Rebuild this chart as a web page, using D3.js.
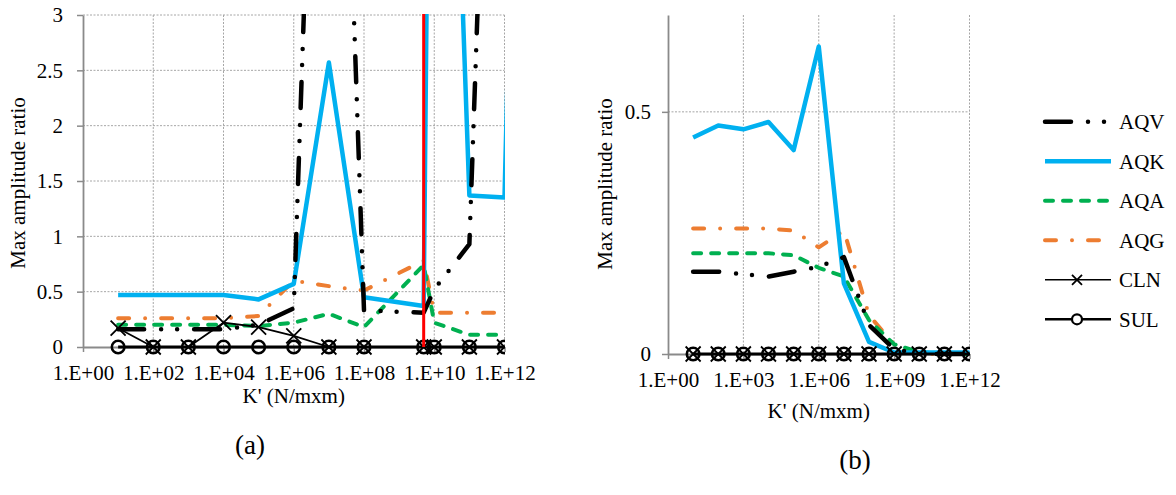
<!DOCTYPE html>
<html>
<head>
<meta charset="utf-8">
<script src="https://cdn.jsdelivr.net/npm/d3@7"></script>
<style>
  body { margin: 0; background: #fff; }
  svg text { font-family: "Liberation Serif", "Times New Roman", Times, "DejaVu Serif", serif; fill: #000; }
</style>
</head>
<body>
<svg id="chart" width="1176" height="495" font-family='"Liberation Serif", "Times New Roman", Times, "DejaVu Serif", serif'></svg>
<script>
// Max amplitude ratio against interface stiffness K', two panels.
// Panel (a) runs off the top in a few places; those off-chart values are
// estimated from the slope of the lines where they leave the plot.

const SERIF = '"Liberation Serif", "Times New Roman", Times, "DejaVu Serif", serif';

// ---- panel (a) data ----
const kA = [1e1, 1e2, 1e3, 1e4, 1e5, 1e6, 1e7, 1e8, 5e9, 1e10, 1e11, 1e12, 1e13];
const aAQV = [0.16, 0.16, 0.16, 0.16, 0.2, 0.35, 9.6, 0.33, 0.31, 0.52, 0.93, 10];
const aAQK = [0.47, 0.47, 0.47, 0.47, 0.43, 0.57, 2.57, 0.45, 0.37, 10.3, 1.37, 1.35, 14];
const aAQA = [0.2, 0.2, 0.2, 0.2, 0.19, 0.22, 0.3, 0.18, 0.74, 0.22, 0.11, 0.11];
const aAQG = [0.26, 0.26, 0.26, 0.26, 0.28, 0.6, 0.55, 0.51, 0.78, 0.31, 0.31, 0.31];
const aCLN = [0.17, 0, 0, 0.22, 0.18, 0.1, 0, 0, 0, 0, 0, 0];
const aSUL = [0, 0, 0, 0, 0, 0, 0, 0, 0, 0, 0, 0];
// the red vertical marker line
const aRedK = [5e9, 5e9];
const aRedY = [0, 10];

// ---- panel (b) data ----
const kB = [1e1, 1e2, 1e3, 1e4, 1e5, 1e6, 1e7, 1e8, 1e9, 1e10, 1e11, 1e12];
const bAQV = [0.17, 0.17, 0.165, 0.16, 0.17, 0.18, 0.2, 0.06, 0.01, 0, 0, 0];
const bAQK = [0.447, 0.472, 0.464, 0.479, 0.421, 0.635, 0.146, 0.025, 0.003, 0.003, 0.003, 0.003];
const bAQA = [0.208, 0.208, 0.208, 0.208, 0.204, 0.178, 0.16, 0.07, 0.02, 0.004, 0, 0];
const bAQG = [0.259, 0.259, 0.259, 0.259, 0.255, 0.22, 0.255, 0.08, 0.02, 0, 0, 0];
const bCLN = [0, 0, 0, 0, 0, 0, 0, 0, 0, 0, 0, 0];
const bSUL = [0, 0, 0, 0, 0, 0, 0, 0, 0, 0, 0, 0];

// ---- axes ----
const yTicksA = [0, 0.5, 1, 1.5, 2, 2.5, 3];
const xTicksA = [1, 1e2, 1e4, 1e6, 1e8, 1e10, 1e12];
const yTicksB = [0, 0.5];
const xTicksB = [1, 1e3, 1e6, 1e9, 1e12];
const seriesNames = ['AQV', 'AQK', 'AQA', 'AQG', 'CLN', 'SUL'];
const xTitle = "K' (N/mxm)";
const yTitle = 'Max amplitude ratio';

const STYLE = {
    AQV: { color: '#000000', width: 4.5, dash: '26 17 0 16 0 17' },
    AQK: { color: '#00b0f0', width: 4.5, dash: null },
    AQA: { color: '#00b050', width: 4, dash: '8 10' },
    AQG: { color: '#ed7d31', width: 4, dash: '11 16 0 16' },
    CLN: { color: '#000000', width: 1.8, dash: null, marker: 'x' },
    SUL: { color: '#000000', width: 3, dash: null, marker: 'o' },
};
const AXIS_COLOR = '#8a8a8a';
const GRID_COLOR = '#a6a6a6';
const FONT_SIZE = 21;

const svg = d3.select('#chart');
svg.append('rect').attr('width', 1176).attr('height', 495).attr('fill', '#fff');

const expFormat = (d) => `1.E+${String(Math.round(Math.log10(d))).padStart(2, '0')}`;

function addText(parent) {
    return parent.append('text').attr('font-family', SERIF).style('font-family', SERIF)
        .attr('font-size', FONT_SIZE).attr('fill', '#000');
}

function drawPanel(p) {
    const g = svg.append('g');
    const x = d3.scaleLog().domain([1, 1e12]).range([p.left, p.right]);
    const y = d3.scaleLinear().domain([0, p.yMax]).range([p.bottom, p.top]);

    // dotted grid
    g.append('g').selectAll('line').data(p.yTicks.filter((t) => t > 0)).join('line')
        .attr('x1', p.left).attr('x2', p.right)
        .attr('y1', (d) => y(d)).attr('y2', (d) => y(d))
        .attr('stroke', GRID_COLOR).attr('stroke-width', 1).attr('stroke-dasharray', '2 1.5');
    g.append('g').selectAll('line').data(p.xTicks.filter((t) => t > 1)).join('line')
        .attr('x1', (d) => x(d)).attr('x2', (d) => x(d))
        .attr('y1', p.top).attr('y2', p.bottom)
        .attr('stroke', GRID_COLOR).attr('stroke-width', 1).attr('stroke-dasharray', '2 1.5');

    // axes
    const gy = g.append('g').attr('transform', `translate(${p.left},0)`)
        .call(d3.axisLeft(y).tickValues(p.yTicks).tickSize(6).tickSizeOuter(0)
            .tickPadding(p.yPad).tickFormat(d3.format('')));
    const gx = g.append('g').attr('transform', `translate(0,${p.bottom})`)
        .call(d3.axisBottom(x).tickValues(p.xTicks).tickSize(5).tickSizeOuter(0)
            .tickPadding(13).tickFormat(expFormat));
    [gy, gx].forEach((ax) => {
        ax.attr('font-family', SERIF).attr('font-size', FONT_SIZE);
        ax.select('.domain').attr('stroke', AXIS_COLOR).attr('stroke-width', 1.8);
        ax.selectAll('.tick line').attr('stroke', AXIS_COLOR).attr('stroke-width', 1.5);
        ax.selectAll('.tick text').attr('font-size', FONT_SIZE)
            .style('font-family', SERIF).attr('fill', '#000');
    });

    // titles
    addText(g).attr('x', (p.left + p.right) / 2).attr('y', p.xTitleY)
        .attr('text-anchor', 'middle').text(xTitle);
    addText(g).attr('transform', `translate(${p.yTitleX},${p.yTitleCy}) rotate(-90)`)
        .attr('text-anchor', 'middle').text(yTitle);
    addText(g).attr('x', p.tagX).attr('y', p.tagY)
        .attr('text-anchor', 'middle').attr('font-size', 27).text(p.tag);

    // series, clipped to the plot area
    const clipId = `clip-${p.tag.replace(/\W/g, '')}`;
    svg.append('clipPath').attr('id', clipId).append('rect')
        .attr('x', p.left - 1).attr('y', p.top - 1)
        .attr('width', p.right - p.left + 1.5).attr('height', p.bottom - p.top + 12);
    const plot = g.append('g').attr('clip-path', `url(#${clipId})`);

    const line = d3.line().x((d) => x(d[0])).y((d) => y(d[1]));
    const order = ['AQG', 'AQA', 'AQK', 'AQV', 'CLN', 'SUL'];
    order.forEach((name) => {
        const pts = p.values[name].map((v, i) => [p.k[i], v]);
        const s = STYLE[name];
        plot.append('path').datum(pts)
            .attr('d', line)
            .attr('fill', 'none')
            .attr('stroke', s.color)
            .attr('stroke-width', s.width)
            .attr('stroke-linecap', s.dash ? 'round' : 'butt')
            .attr('stroke-linejoin', 'round')
            .attr('stroke-dasharray', s.dash);
        if (s.marker === 'x') {
            plot.append('g').selectAll('path').data(pts).join('path')
                .attr('transform', (d) => `translate(${x(d[0])},${y(d[1])})`)
                .attr('d', 'M-7.5,-7.5L7.5,7.5M-7.5,7.5L7.5,-7.5')
                .attr('stroke', s.color).attr('stroke-width', 1.8);
        } else if (s.marker === 'o') {
            plot.append('g').selectAll('circle').data(pts).join('circle')
                .attr('cx', (d) => x(d[0])).attr('cy', (d) => y(d[1]))
                .attr('r', 6.3).attr('fill', 'none')
                .attr('stroke', s.color).attr('stroke-width', 2.6);
        }
    });

    if (p.red) {
        const redPts = p.red.k.map((k, i) => [k, p.red.y[i]]);
        plot.append('path').datum(redPts).attr('d', line)
            .attr('fill', 'none').attr('stroke', '#ff0000').attr('stroke-width', 3);
    }
}

drawPanel({
    tag: '(a)', left: 83, right: 504.5, top: 15, bottom: 347, yMax: 3,
    xTicks: xTicksA, yTicks: yTicksA, yPad: 14, k: kA,
    values: { AQV: aAQV, AQK: aAQK, AQA: aAQA, AQG: aAQG, CLN: aCLN, SUL: aSUL },
    red: { k: aRedK, y: aRedY },
    xTitleY: 403, yTitleX: 25, yTitleCy: 183, tagX: 250, tagY: 454,
});

drawPanel({
    tag: '(b)', left: 668, right: 969.5, top: 15, bottom: 354, yMax: 0.7,
    xTicks: xTicksB, yTicks: yTicksB, yPad: 11, k: kB,
    values: { AQV: bAQV, AQK: bAQK, AQA: bAQA, AQG: bAQG, CLN: bCLN, SUL: bSUL },
    xTitleY: 418, yTitleX: 612, yTitleCy: 184, tagX: 855, tagY: 469,
});

// legend for panel (b)
const legend = svg.append('g');
const rowY = d3.scalePoint().domain(seriesNames).range([121.7, 319.3]);
seriesNames.forEach((name) => {
    const s = STYLE[name];
    const cy = rowY(name);
    legend.append('line')
        .attr('x1', 1045).attr('x2', 1111).attr('y1', cy).attr('y2', cy)
        .attr('stroke', s.color)
        .attr('stroke-width', s.marker ? (name === 'SUL' ? 2.4 : 1.6) : s.width)
        .attr('stroke-linecap', s.dash ? 'round' : 'butt')
        .attr('stroke-dasharray', s.dash);
    if (s.marker === 'x') {
        legend.append('path').attr('transform', `translate(1077,${cy})`)
            .attr('d', 'M-5,-5L5,5M-5,5L5,-5').attr('stroke', '#000').attr('stroke-width', 1.8);
    } else if (s.marker === 'o') {
        legend.append('circle').attr('cx', 1077).attr('cy', cy).attr('r', 5)
            .attr('fill', '#fff').attr('stroke', '#000').attr('stroke-width', 2.2);
    }
    addText(legend).attr('x', 1119).attr('y', cy + 7.5).text(name);
});
</script>
</body>
</html>
